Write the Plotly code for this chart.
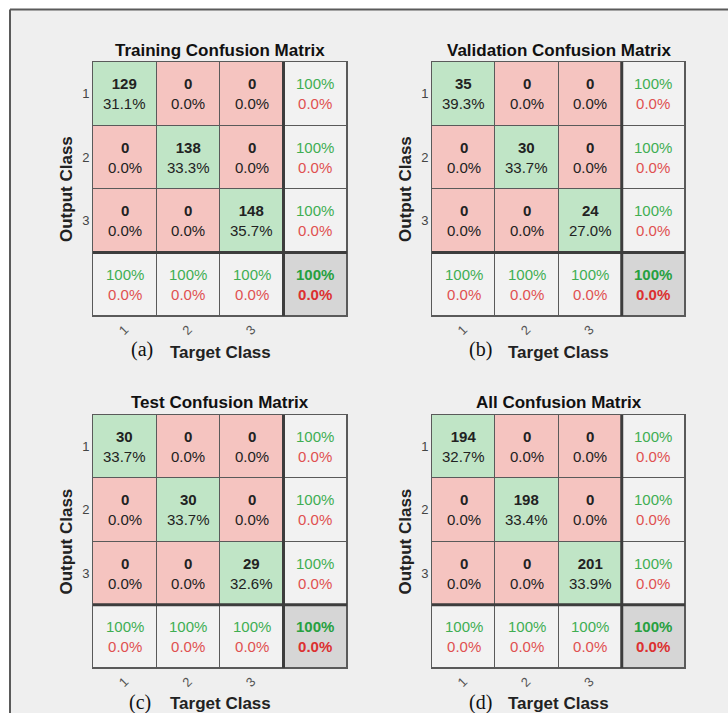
import plotly.graph_objects as go

# ---- data: confusion counts (rows = output class, cols = target class) ----
classes = ["1", "2", "3"]
panel_titles = ["Training Confusion Matrix", "Validation Confusion Matrix",
                "Test Confusion Matrix", "All Confusion Matrix"]
panel_tags = ["(a)", "(b)", "(c)", "(d)"]
train_counts = [[129, 0, 0], [0, 138, 0], [0, 0, 148]]
val_counts = [[35, 0, 0], [0, 30, 0], [0, 0, 24]]
test_counts = [[30, 0, 0], [0, 30, 0], [0, 0, 29]]
all_counts = [[194, 0, 0], [0, 198, 0], [0, 0, 201]]
matrices = [train_counts, val_counts, test_counts, all_counts]

W, H = 728, 713
FONT = "Liberation Sans, Arial, Helvetica, sans-serif"
SERIF = "Liberation Serif, Times New Roman, serif"

PINK = "#f5c4c0"
GREEN = "#c0e5c6"
LIGHT = "#f2f2f2"
TOTAL = "#d6d6d6"
GOOD = "#3fae52"
BAD = "#e05050"
BG = "#efefef"

# panel boxes in pixels: (left, right, top, bottom)
boxes = [(93, 347, 62, 316), (432, 685, 62, 316),
         (93, 347, 415, 668), (432, 685, 415, 668)]
# text placements in pixels: title y, xlabel centre/y, tag centre/y
title_y = [50, 50, 402, 402]
xlab_pos = [(221, 352), (558, 352), (221, 703), (558, 703)]
tag_pos = [(142, 349), (480, 349), (140, 702), (480, 702)]


def px(x):
    return x / W


def py(y):
    return 1 - y / H


def pct_text(v):
    return "100%" if abs(v - 100) < 1e-9 else f"{v:.1f}%"


fig = go.Figure()
annotations = []
shapes = []

# white margin strips (top and left) with the frame edges
shapes.append(dict(type="rect", xref="paper", yref="paper",
                   x0=-0.01, x1=1.01, y0=py(9.5), y1=1.01,
                   fillcolor="white", line=dict(width=0), layer="below"))
shapes.append(dict(type="rect", xref="paper", yref="paper",
                   x0=-0.01, x1=px(10), y0=-0.01, y1=1.01,
                   fillcolor="white", line=dict(width=0), layer="below"))
shapes.append(dict(type="line", xref="paper", yref="paper",
                   x0=px(10), x1=1.01, y0=py(9.5), y1=py(9.5),
                   line=dict(color="#5a5a5a", width=2)))
shapes.append(dict(type="line", xref="paper", yref="paper",
                   x0=px(10), x1=px(10), y0=-0.01, y1=py(9.5),
                   line=dict(color="#5a5a5a", width=2)))

step_scale = [[0, PINK], [1 / 6, PINK], [1 / 6, GREEN], [0.5, GREEN],
              [0.5, LIGHT], [5 / 6, LIGHT], [5 / 6, TOTAL], [1, TOTAL]]

for k, counts in enumerate(matrices):
    n = len(counts)
    total = sum(sum(r) for r in counts)
    xa = "x" if k == 0 else f"x{k + 1}"
    ya = "y" if k == 0 else f"y{k + 1}"
    xname = "xaxis" if k == 0 else f"xaxis{k + 1}"
    yname = "yaxis" if k == 0 else f"yaxis{k + 1}"

    # cell categories: 0 wrong, 1 correct, 2 row/col summary, 3 overall
    z = []
    for i in range(n + 1):
        row = []
        for j in range(n + 1):
            if i == n and j == n:
                row.append(3)
            elif i == n or j == n:
                row.append(2)
            else:
                row.append(1 if i == j else 0)
        z.append(row)

    fig.add_trace(go.Heatmap(
        z=z, x=list(range(n + 1)), y=list(range(n + 1)),
        zmin=0, zmax=3, colorscale=step_scale, showscale=False,
        xgap=1, ygap=1, hoverinfo="skip", xaxis=xa, yaxis=ya))

    l, r, t, b = boxes[k]
    fig.layout[xname] = dict(
        domain=[px(l), px(r)], anchor=ya, range=[-0.5, n + 0.5],
        tickmode="array", tickvals=list(range(n)), ticktext=classes,
        tickangle=-45, tickfont=dict(size=13, color="#555", family=FONT),
        showgrid=False, zeroline=False, showline=True, mirror=True,
        linecolor="#5a5a5a", linewidth=1, ticks="", fixedrange=True)
    fig.layout[yname] = dict(
        domain=[py(b), py(t)], anchor=xa, range=[n + 0.5, -0.5],
        tickmode="array", tickvals=list(range(n)), ticktext=classes,
        tickfont=dict(size=13, color="#444", family=FONT),
        showgrid=False, zeroline=False, showline=True, mirror=True,
        linecolor="#5a5a5a", linewidth=1, ticks="", fixedrange=True)

    # thick separators before the summary row/column
    shapes.append(dict(type="line", xref=xa, yref=ya, x0=n - 0.5, x1=n - 0.5,
                       y0=-0.5, y1=n + 0.5, line=dict(color="#3d3d3d", width=3)))
    shapes.append(dict(type="line", xref=xa, yref=ya, y0=n - 0.5, y1=n - 0.5,
                       x0=-0.5, x1=n + 0.5, line=dict(color="#3d3d3d", width=3)))

    # cell texts
    for i in range(n):
        for j in range(n):
            c = counts[i][j]
            annotations.append(dict(
                xref=xa, yref=ya, x=j, y=i, showarrow=False,
                text=f"<b>{c}</b><br>{pct_text(100 * c / total)}",
                font=dict(size=15, color="#222", family=FONT)))
    # row summaries (precision)
    for i in range(n):
        rs = sum(counts[i])
        good = 100 * counts[i][i] / rs if rs else 0
        annotations.append(dict(
            xref=xa, yref=ya, x=n, y=i, showarrow=False,
            text=f"<span style='color:{GOOD}'>{pct_text(good)}</span><br>"
                 f"<span style='color:{BAD}'>{pct_text(100 - good)}</span>",
            font=dict(size=15, family=FONT)))
    # column summaries (recall)
    for j in range(n):
        cs = sum(counts[i][j] for i in range(n))
        good = 100 * counts[j][j] / cs if cs else 0
        annotations.append(dict(
            xref=xa, yref=ya, x=j, y=n, showarrow=False,
            text=f"<span style='color:{GOOD}'>{pct_text(good)}</span><br>"
                 f"<span style='color:{BAD}'>{pct_text(100 - good)}</span>",
            font=dict(size=15, family=FONT)))
    # overall accuracy
    acc = 100 * sum(counts[i][i] for i in range(n)) / total
    annotations.append(dict(
        xref=xa, yref=ya, x=n, y=n, showarrow=False,
        text=f"<b><span style='color:#27a040'>{pct_text(acc)}</span><br>"
             f"<span style='color:#dc3030'>{pct_text(100 - acc)}</span></b>",
        font=dict(size=15, family=FONT)))

    # titles and labels
    annotations.append(dict(
        xref="paper", yref="paper", x=px((l + r) / 2), y=py(title_y[k]),
        text=f"<b>{panel_titles[k]}</b>", showarrow=False,
        xanchor="center", yanchor="middle",
        font=dict(size=17, color="#111", family=FONT)))
    annotations.append(dict(
        xref="paper", yref="paper", x=px(l - 27), y=py((t + b) / 2),
        text="<b>Output Class</b>", textangle=-90, showarrow=False,
        xanchor="center", yanchor="middle",
        font=dict(size=17, color="#222", family=FONT)))
    annotations.append(dict(
        xref="paper", yref="paper", x=px(xlab_pos[k][0]), y=py(xlab_pos[k][1]),
        text="<b>Target Class</b>", showarrow=False,
        xanchor="center", yanchor="middle",
        font=dict(size=17, color="#222", family=FONT)))
    annotations.append(dict(
        xref="paper", yref="paper", x=px(tag_pos[k][0]), y=py(tag_pos[k][1]),
        text=panel_tags[k], showarrow=False,
        xanchor="center", yanchor="middle",
        font=dict(size=20, color="#111", family=SERIF)))

fig.update_layout(
    width=W, height=H, margin=dict(l=0, r=0, t=0, b=0),
    paper_bgcolor=BG, plot_bgcolor="#5a5a5a",
    showlegend=False, annotations=annotations, shapes=shapes)

fig.write_html("out.html")
